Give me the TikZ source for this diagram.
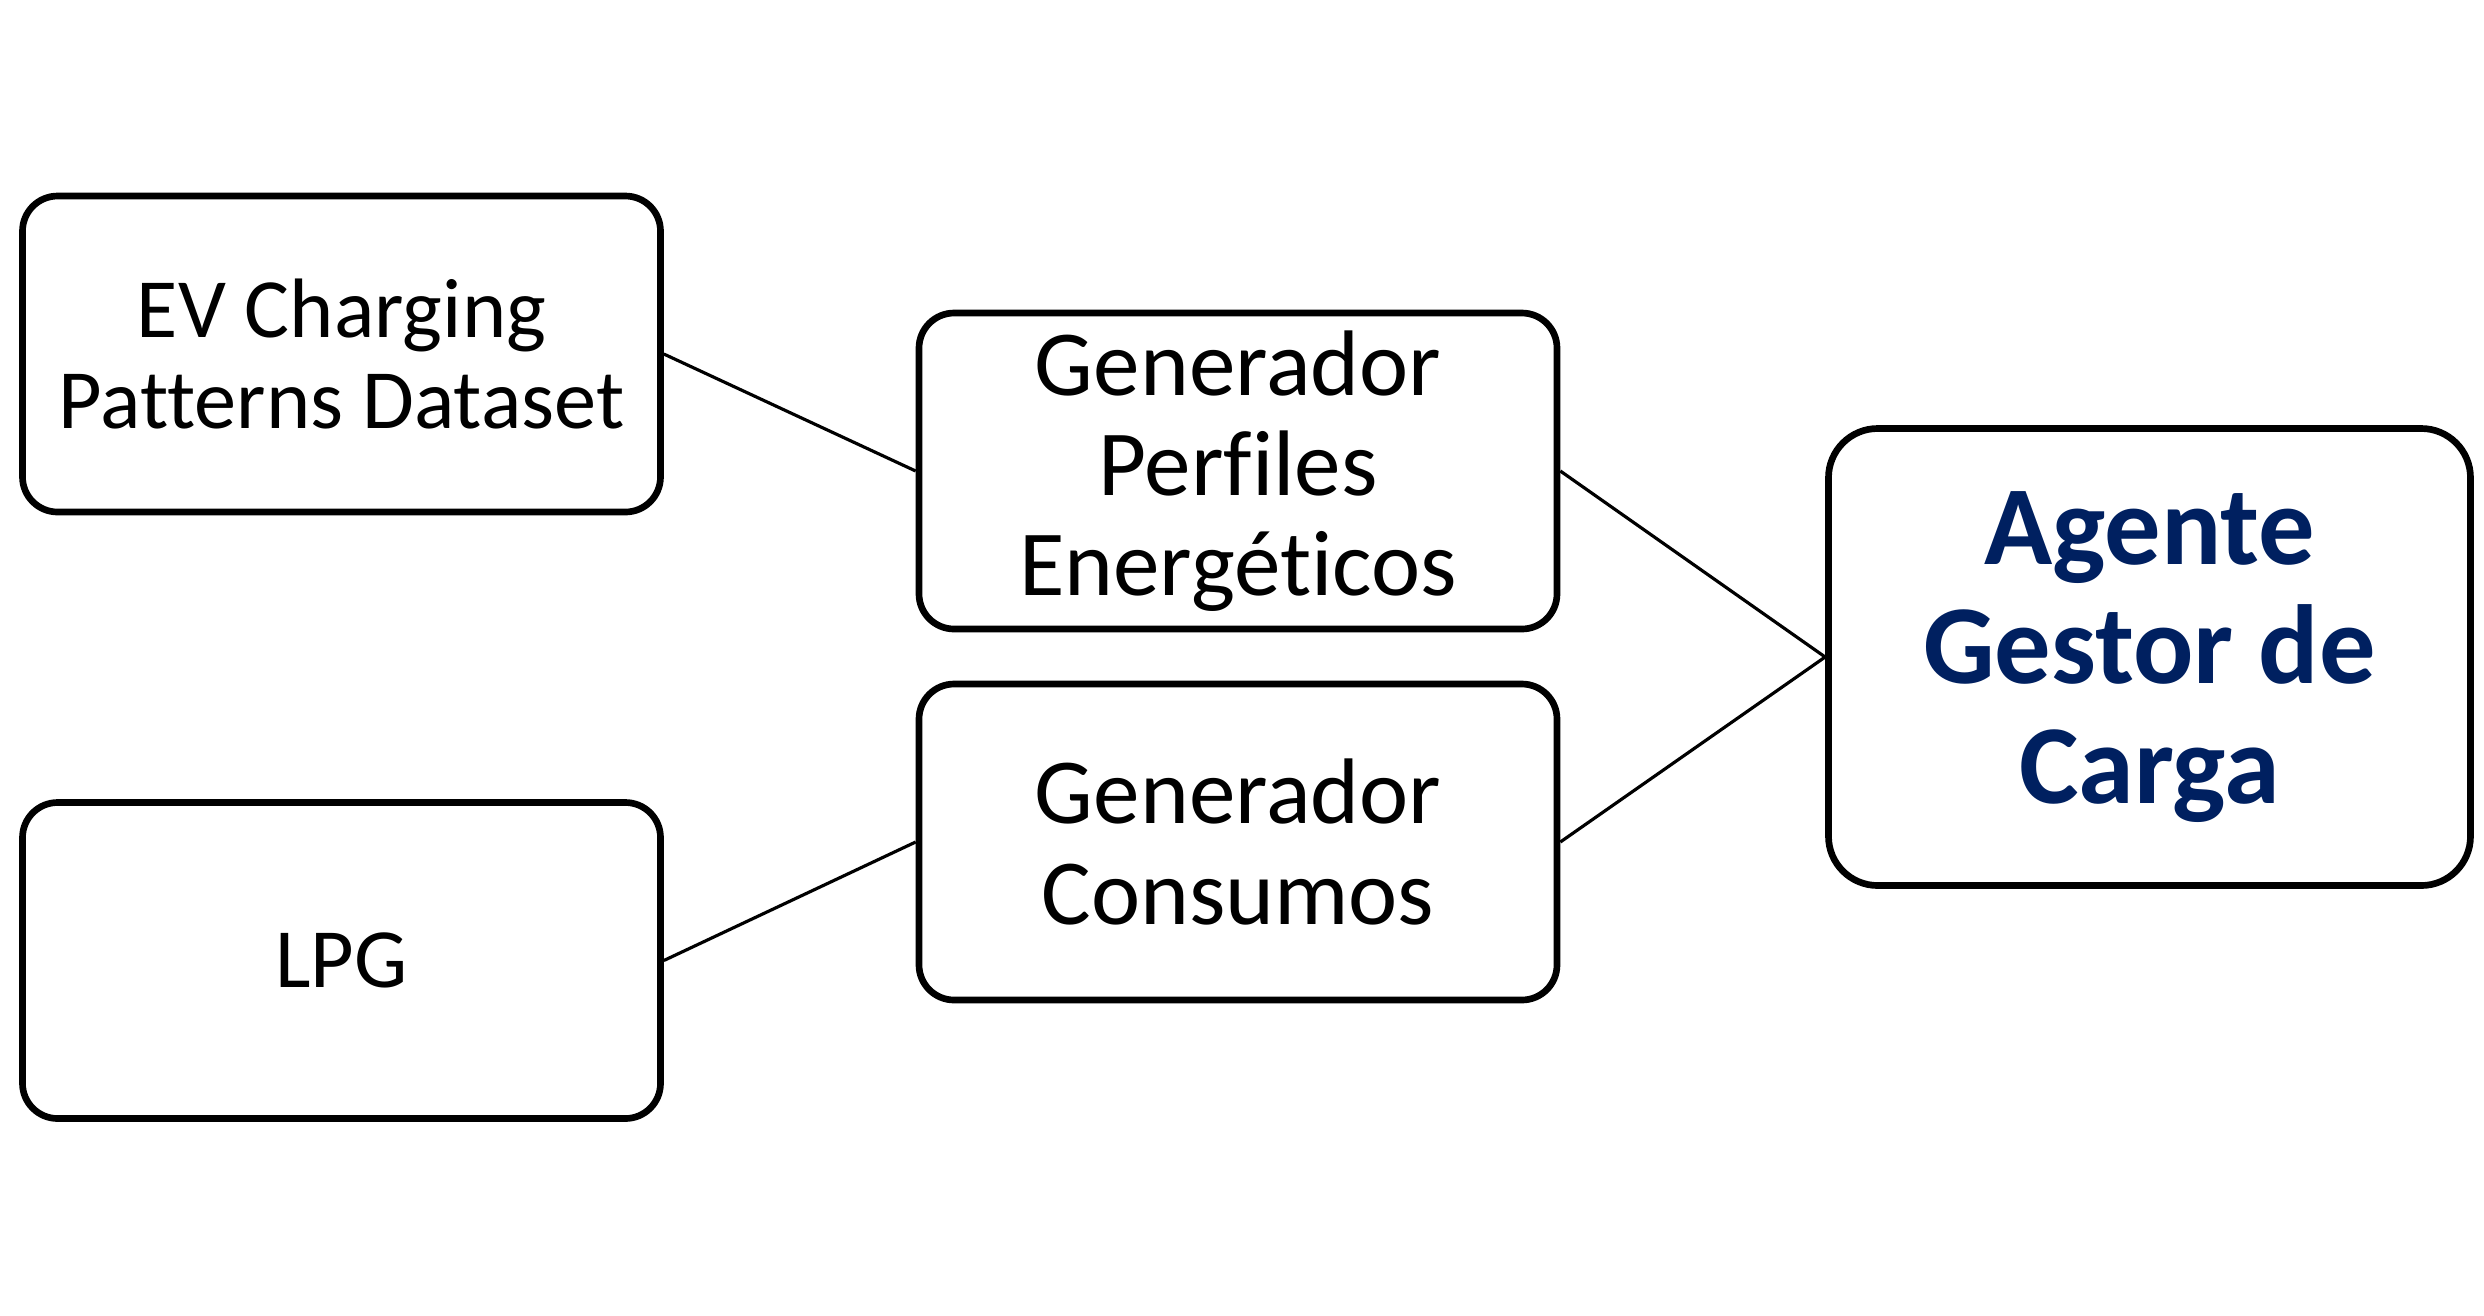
\documentclass[tikz,border=0pt]{standalone}
\usepackage{fontspec}
\setmainfont[Ligatures=NoCommon]{Carlito}
\usepackage{xcolor}
\usepackage{tikz}
\definecolor{cAgtT}{HTML}{002060}

\begin{document}
\begin{tikzpicture}[x=1cm,y=1cm,
  bx/.style={draw=black,rounded corners=10pt,line width=1.9pt,align=center,
    fill=white,minimum width=6.38cm,minimum height=3.16cm,inner sep=4pt},
  src/.style={bx,font=\fontsize{24}{26}\selectfont},
  gen/.style={bx,font=\fontsize{26.5}{28.5}\selectfont},
  agt/.style={bx,font=\bfseries\fontsize{32}{34}\selectfont,text=cAgtT,
    minimum width=6.42cm,minimum height=4.57cm,rounded corners=14pt},
  lnk/.style={line width=0.9pt,draw=black}]

  \useasboundingbox (0,0) rectangle (24.84,-13.15);

  % sources
  \node[src] (ev) at (3.415,-3.54) {EV Charging\\Patterns Dataset};
  \node[src] (lpg) at (3.415,-9.605) {LPG};

  % generators
  \node[gen] (genp) at (12.38,-4.71) {Generador\\Perfiles\\Energéticos};
  \node[gen] (genc) at (12.38,-8.42) {Generador\\Consumos};

  % agent
  \node[agt] (agt) at (21.495,-6.57) {Agente\\Gestor de\\Carga};

  \draw[lnk] (ev.east) -- (genp.west);
  \draw[lnk] (lpg.east) -- (genc.west);
  \draw[lnk] (genp.east) -- (agt.west);
  \draw[lnk] (genc.east) -- (agt.west);
\end{tikzpicture}
\end{document}
